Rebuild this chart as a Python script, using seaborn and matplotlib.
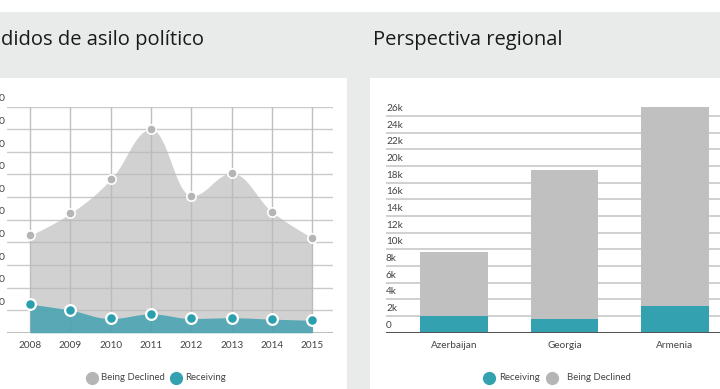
import numpy as np
import pandas as pd
import matplotlib
matplotlib.use("Agg")
import matplotlib.pyplot as plt
from matplotlib.patches import Rectangle
from matplotlib.lines import Line2D
import seaborn as sns

# ---------------- data ----------------
years = [2008, 2009, 2010, 2011, 2012, 2013, 2014, 2015]
declined_by_year = [4310, 5280, 6780, 9000, 6060, 7050, 5350, 4200]
receiving_by_year = [1260, 1000, 630, 830, 630, 660, 600, 550]
left_yticks = [1000, 2000, 3000, 4000, 5000, 6000, 7000, 8000, 9000, 10000]
# only the last digit of each left-axis label is visible in the (cropped) picture
left_yticklabels = ["0", "0", "0", "0", "0", "0", "0", "0", "0", "0"]

countries = ["Azerbaijan", "Georgia", "Armenia"]
receiving_by_country = [2040, 1600, 3200]
declined_by_country = [7640, 17900, 23900]
right_yticks = [0, 2000, 4000, 6000, 8000, 10000, 12000, 14000, 16000,
                18000, 20000, 22000, 24000, 26000]
right_yticklabels = ["0", "2k", "4k", "6k", "8k", "10k", "12k", "14k", "16k",
                     "18k", "20k", "22k", "24k", "26k"]

title_left = "didos de asilo político"
title_right = "Perspectiva regional"

TEAL = "#33a1b0"
GRAY_MK = "#b5b5b5"
BG = "#e9eaea"
TXT = "#444444"

sns.set_theme(style="white")
plt.rcParams["font.family"] = ["Lato", "DejaVu Sans"]

W, H = 720, 389
fig = plt.figure(figsize=(W / 100, H / 100), dpi=100, facecolor=BG)


def fx(x):
    return x / W


def fy(y):
    return 1 - y / H


# white top strip and white panels (behind the axes)
for (x0, y0, w, h) in [(0, 0, 720, 12), (0, 78, 347, 311), (370, 78, 350, 311)]:
    fig.patches.append(Rectangle((fx(x0), fy(y0 + h)), w / W, h / H,
                                 transform=fig.transFigure, facecolor="white",
                                 edgecolor="none", zorder=-5))

# titles
fig.text(fx(1), fy(40), title_left, fontsize=14.5, family=["Open Sans", "DejaVu Sans"],
         color="#1a1a1a", ha="left", va="center")
fig.text(fx(373), fy(40), title_right, fontsize=14.5, family=["Open Sans", "DejaVu Sans"],
         color="#1a1a1a", ha="left", va="center")


# ---------------- helpers ----------------
def hc_spline(xs, ys, smoothing=1.5, n=40):
    denom = smoothing + 1
    xs = list(map(float, xs))
    ys = list(map(float, ys))
    m = len(xs)
    lc, rc = [], []
    for i in range(m):
        x, y = xs[i], ys[i]
        if i == 0 or i == m - 1:
            lc.append((x, y))
            rc.append((x, y))
            continue
        lx, ly = xs[i - 1], ys[i - 1]
        nx, ny = xs[i + 1], ys[i + 1]
        lcx = (smoothing * x + lx) / denom
        lcy = (smoothing * y + ly) / denom
        rcx = (smoothing * x + nx) / denom
        rcy = (smoothing * y + ny) / denom
        if rcx != lcx:
            corr = ((rcy - lcy) * (rcx - x)) / (rcx - lcx) + y - rcy
            lcy += corr
            rcy += corr
        if lcy > ly and lcy > y:
            lcy = max(ly, y)
            rcy = 2 * y - lcy
        elif lcy < ly and lcy < y:
            lcy = min(ly, y)
            rcy = 2 * y - lcy
        if rcy > ny and rcy > y:
            rcy = max(ny, y)
            lcy = 2 * y - rcy
        elif rcy < ny and rcy < y:
            rcy = min(ny, y)
            lcy = 2 * y - rcy
        lc.append((lcx, lcy))
        rc.append((rcx, rcy))
    t = np.linspace(0, 1, n)
    px, py = [xs[0]], [ys[0]]
    for i in range(1, m):
        p0 = np.array([xs[i - 1], ys[i - 1]])
        c1 = np.array(rc[i - 1])
        c2 = np.array(lc[i])
        p3 = np.array([xs[i], ys[i]])
        b = ((1 - t) ** 3)[:, None] * p0 + (3 * (1 - t) ** 2 * t)[:, None] * c1 \
            + (3 * (1 - t) * t ** 2)[:, None] * c2 + (t ** 3)[:, None] * p3
        px.extend(b[1:, 0])
        py.extend(b[1:, 1])
    return np.array(px), np.array(py)


# ---------------- left chart ----------------
axl = fig.add_axes([fx(7), fy(332.7), fx(332.7 - 7), (332.7 - 106.7) / H])
axl.set_facecolor("none")
axl.set_xlim(2008 - 23 / 40.33, 2015 + 20.4 / 40.33)
axl.set_ylim(0, 10000)
for s in axl.spines.values():
    s.set_visible(False)
axl.axhline(0, color="#b0b0b0", lw=1.2, zorder=1)
for v in left_yticks:
    axl.axhline(v, color="#cacaca", lw=1, zorder=1)
for yr in years:
    axl.axvline(yr, color="#c0c0c0", lw=1, zorder=1)

sx, sy = hc_spline(years, declined_by_year)
axl.fill_between(sx, 0, sy, color="#b9b9b9", alpha=0.65, lw=0, zorder=2)
rx, ry = hc_spline(years, receiving_by_year)
axl.fill_between(rx, 0, ry, color="#3aa0ae", alpha=0.8, lw=0, zorder=3)

df_left = pd.DataFrame({"year": years, "declined": declined_by_year,
                        "receiving": receiving_by_year})
sns.scatterplot(data=df_left, x="year", y="declined", ax=axl, color=GRAY_MK, s=45,
                edgecolor="white", linewidth=1.2, zorder=5, legend=False)
sns.scatterplot(data=df_left, x="year", y="receiving", ax=axl, color="#2a9fae", s=60,
                edgecolor="white", linewidth=1.6, zorder=6, legend=False)

axl.set_xticks(years)
axl.set_xticklabels([str(y) for y in years], fontsize=7.2, color=TXT)
axl.tick_params(axis="x", length=0, pad=6)
axl.set_yticks([])
axl.set_xlabel("")
axl.set_ylabel("")
ytr = axl.get_yaxis_transform()
for v, lab in zip(left_yticks, left_yticklabels):
    axl.text(-0.006, v + 150, lab, transform=ytr, ha="right", va="bottom",
             fontsize=7.5, color=TXT, clip_on=False)

# left legend
fig.lines.append(Line2D([fx(92)], [fy(378)], marker="o", ms=8.5, color=GRAY_MK, lw=0,
                        transform=fig.transFigure))
fig.text(fx(101), fy(378), "Being Declined", fontsize=6.9, color=TXT, va="center", ha="left")
fig.lines.append(Line2D([fx(176)], [fy(378)], marker="o", ms=8.5, color=TEAL, lw=0,
                        transform=fig.transFigure))
fig.text(fx(185), fy(378), "Receiving", fontsize=6.9, color=TXT, va="center", ha="left")

# ---------------- right chart ----------------
y_top_px = 332.7 - 28 * 8.333
axr = fig.add_axes([fx(386), fy(332.7), fx(720 - 386), (332.7 - y_top_px) / H])
axr.set_facecolor("none")
for s in axr.spines.values():
    s.set_visible(False)
for v in right_yticks[1:]:
    axr.axhline(v, color="#cdcdcd", lw=1.3, zorder=0)

totals = [r + d for r, d in zip(receiving_by_country, declined_by_country)]
df_right = pd.DataFrame({"country": countries, "total": totals,
                         "receiving": receiving_by_country})
sns.barplot(data=df_right, x="country", y="total", ax=axr, color="#c0c0c0",
            saturation=1, width=0.615, linewidth=0, zorder=2)
sns.barplot(data=df_right, x="country", y="receiving", ax=axr, color=TEAL,
            saturation=1, width=0.615, linewidth=0, zorder=3)
axr.set_xlim(-68 / 110.5, (720 - 454) / 110.5)
axr.set_ylim(0, 28000)
axr.axhline(0, color="#555555", lw=2.2, zorder=4)
axr.set_xlabel("")
axr.set_ylabel("")
axr.set_yticks([])
axr.tick_params(axis="x", length=0, pad=6, labelsize=7.2, labelcolor=TXT)
ytr2 = axr.get_yaxis_transform()
for v, lab in zip(right_yticks, right_yticklabels):
    axr.text(0.0, v + 350, lab, transform=ytr2, ha="left", va="bottom",
             fontsize=7.2, color=TXT, zorder=5)

# right legend
fig.lines.append(Line2D([fx(489)], [fy(378)], marker="o", ms=8.5, color=TEAL, lw=0,
                        transform=fig.transFigure))
fig.text(fx(499), fy(378), "Receiving", fontsize=6.9, color=TXT, va="center", ha="left")
fig.lines.append(Line2D([fx(552)], [fy(378)], marker="o", ms=8.5, color=GRAY_MK, lw=0,
                        transform=fig.transFigure))
fig.text(fx(567), fy(378), "Being Declined", fontsize=6.9, color=TXT, va="center", ha="left")

fig.savefig("out.png", dpi=100, facecolor=BG)
